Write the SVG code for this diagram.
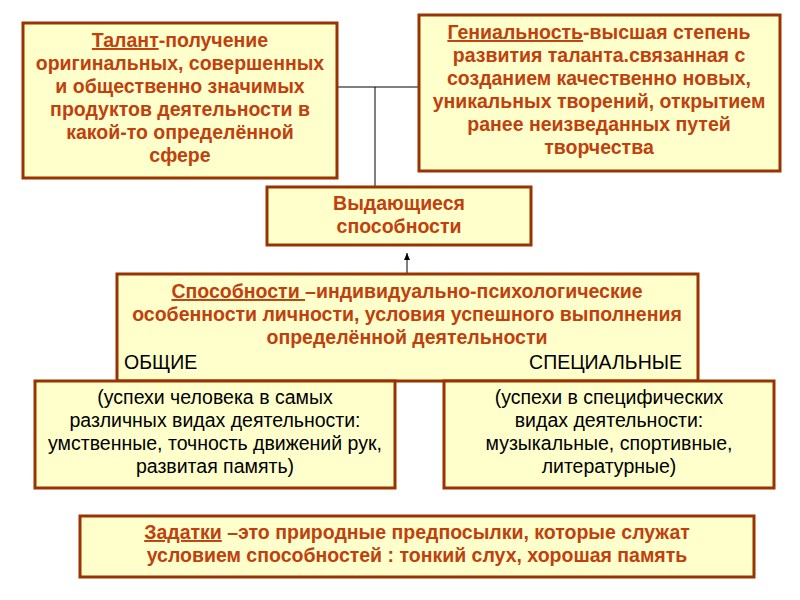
<svg xmlns="http://www.w3.org/2000/svg" width="800" height="600" viewBox="0 0 800 600">
<style>
.box{fill:#FFFFCC;stroke:#993300;stroke-width:3}
.t{font-family:"Liberation Sans",Arial,sans-serif;font-size:19.5px;font-weight:bold;fill:#C0400E;text-anchor:middle}
.n{font-family:"Liberation Sans",Arial,sans-serif;font-size:19.5px;fill:#000;text-anchor:middle}
.s{text-anchor:start}
.e{text-anchor:end}
.c{stroke:#000;stroke-width:1;fill:none}
</style>
<defs><marker id="a" markerWidth="8" markerHeight="8" refX="7" refY="4" orient="auto" markerUnits="userSpaceOnUse"><path d="M0,1 L7,4 L0,7 Z" fill="#000"/></marker></defs>
<rect width="800" height="600" fill="#fff"/>
<g id="connectors">
<path class="c" d="M337,87 H419 M375,87 V187"/>
<path class="c" d="M407,274 V253" marker-end="url(#a)"/>
<path class="c" d="M360,357 L216,369" marker-end="url(#a)"/>
<path class="c" d="M360,357 L523,369" marker-end="url(#a)"/>
</g>
<g id="talent"><rect class="box" x="23" y="23" width="314" height="155"/>
<text class="t" x="180" y="47"><tspan text-decoration="underline">Талант</tspan>-получение</text>
<text class="t" x="180" y="70">оригинальных, совершенных</text>
<text class="t" x="180" y="93">и общественно значимых</text>
<text class="t" x="180" y="116">продуктов деятельности в</text>
<text class="t" x="180" y="139">какой-то определённой</text>
<text class="t" x="180" y="162">сфере</text></g>
<g id="genius"><rect class="box" x="419" y="15" width="361" height="156"/>
<text class="t" x="599" y="39"><tspan text-decoration="underline">Гениальность</tspan>-высшая степень</text>
<text class="t" x="599" y="62">развития таланта.связанная с</text>
<text class="t" x="599" y="85">созданием качественно новых,</text>
<text class="t" x="599" y="108">уникальных творений, открытием</text>
<text class="t" x="599" y="131">ранее неизведанных путей</text>
<text class="t" x="599" y="154">творчества</text></g>
<g id="outstanding"><rect class="box" x="267" y="187" width="264" height="58"/>
<text class="t" x="399" y="210">Выдающиеся</text>
<text class="t" x="399" y="233">способности</text></g>
<g id="abilities"><rect class="box" x="117" y="274" width="581" height="107"/>
<text class="t" x="407" y="298"><tspan text-decoration="underline">Способности </tspan>–индивидуально-психологические</text>
<text class="t" x="407" y="321">особенности личности, условия успешного выполнения</text>
<text class="t" x="407" y="344">определённой деятельности</text>
<text class="n s" x="124" y="369">ОБЩИЕ</text>
<text class="n e" x="682" y="369">СПЕЦИАЛЬНЫЕ</text></g>
<g id="general"><rect class="box" x="35" y="381" width="360" height="107"/>
<text class="n" x="215" y="404">(успехи человека в самых</text>
<text class="n" x="215" y="427">различных   видах деятельности:</text>
<text class="n" x="215" y="450">умственные, точность движений рук,</text>
<text class="n" x="215" y="473">развитая память)</text></g>
<g id="special"><rect class="box" x="444" y="381" width="330" height="107"/>
<text class="n" x="609" y="404">(успехи  в специфических</text>
<text class="n" x="609" y="427">видах деятельности:</text>
<text class="n" x="609" y="450">музыкальные, спортивные,</text>
<text class="n" x="609" y="473">литературные)</text></g>
<g id="inclinations"><rect class="box" x="80" y="516" width="674" height="61"/>
<text class="t" x="417" y="539"><tspan text-decoration="underline">Задатки</tspan> –это природные предпосылки, которые служат</text>
<text class="t" x="417" y="562">условием способностей : тонкий слух, хорошая память</text></g>
</svg>
